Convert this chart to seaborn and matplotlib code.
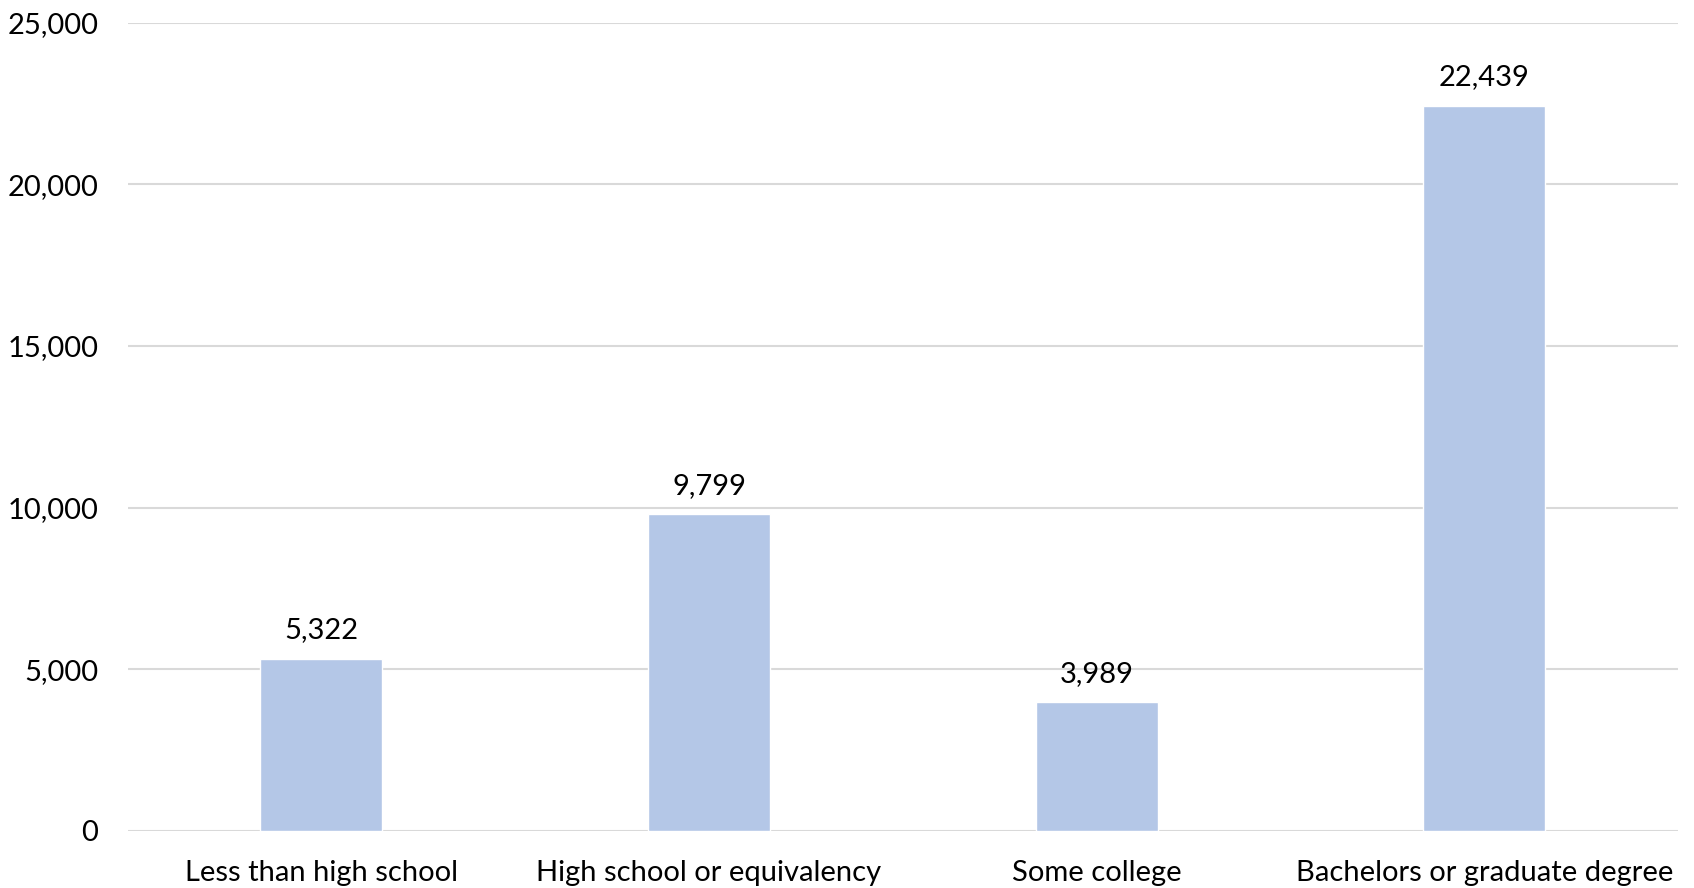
import matplotlib
matplotlib.use("Agg")
import matplotlib.pyplot as plt
import seaborn as sns
import pandas as pd
from matplotlib.ticker import FuncFormatter

categories = ["Less than high school", "High school or equivalency",
              "Some college", "Bachelors or graduate degree"]
values = [5322, 9799, 3989, 22439]
y_ticks = [0, 5000, 10000, 15000, 20000, 25000]

sns.set_theme(style="white")
plt.rcParams["font.family"] = ["Lato", "DejaVu Sans"]

df = pd.DataFrame({"category": categories, "value": values})

fig = plt.figure(figsize=(16.94, 8.88), dpi=100)
ax = fig.add_axes([0.0753, 0.0644, 0.9153, 0.9100])

sns.barplot(data=df, x="category", y="value", color="#B4C7E7",
            saturation=1, width=0.315, ax=ax, zorder=3)

ax.set_ylim(0, 25000)
ax.set_yticks(y_ticks)
ax.yaxis.set_major_formatter(FuncFormatter(lambda v, _: f"{int(v):,}"))
ax.grid(axis="y", color="#D9D9D9", linewidth=1.5, zorder=0)
ax.set_axisbelow(True)
for s in ax.spines.values():
    s.set_visible(False)
ax.set_xlabel("")
ax.set_ylabel("")
ax.tick_params(axis="both", length=0, labelsize=21, colors="black")
ax.tick_params(axis="x", pad=21)
ax.tick_params(axis="y", pad=21)

for i, v in enumerate(values):
    ax.annotate(f"{v:,}", xy=(i, v), xytext=(0, 11), textcoords="offset points",
                ha="center", va="bottom", fontsize=21, color="black")

fig.savefig("out.png", dpi=100, facecolor="white")
